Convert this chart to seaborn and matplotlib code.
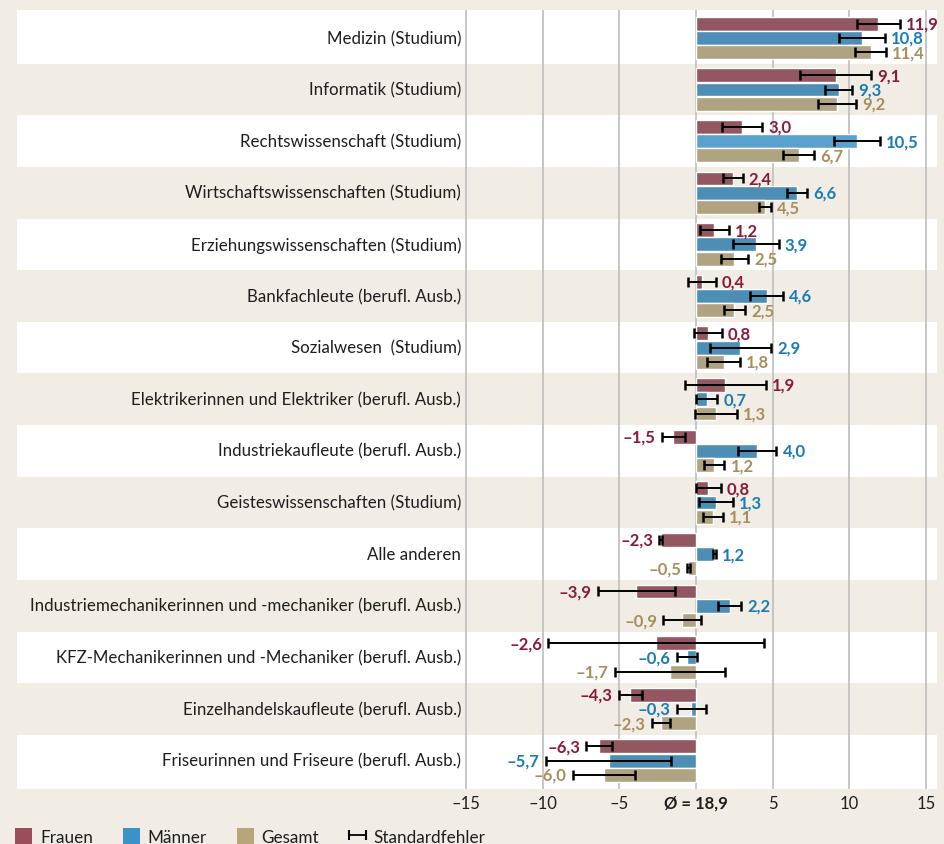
import pandas as pd
import matplotlib.pyplot as plt
import seaborn as sns
from matplotlib.patches import Patch
from matplotlib.lines import Line2D
from matplotlib.legend_handler import HandlerLine2D

# data
categories = [
    "Medizin (Studium)",
    "Informatik (Studium)",
    "Rechtswissenschaft (Studium)",
    "Wirtschaftswissenschaften (Studium)",
    "Erziehungswissenschaften (Studium)",
    "Bankfachleute (berufl. Ausb.)",
    "Sozialwesen  (Studium)",
    "Elektrikerinnen und Elektriker (berufl. Ausb.)",
    "Industriekaufleute (berufl. Ausb.)",
    "Geisteswissenschaften (Studium)",
    "Alle anderen",
    "Industriemechanikerinnen und -mechaniker (berufl. Ausb.)",
    "KFZ-Mechanikerinnen und -Mechaniker (berufl. Ausb.)",
    "Einzelhandelskaufleute (berufl. Ausb.)",
    "Friseurinnen und Friseure (berufl. Ausb.)",
]
groups = ["Frauen", "Männer", "Gesamt"]

frauen = [11.9, 9.1, 3.0, 2.4, 1.2, 0.4, 0.8, 1.9, -1.5, 0.8, -2.3, -3.9, -2.6, -4.3, -6.3]
maenner = [10.8, 9.3, 10.5, 6.6, 3.9, 4.6, 2.9, 0.7, 4.0, 1.3, 1.2, 2.2, -0.6, -0.3, -5.7]
gesamt = [11.4, 9.2, 6.7, 4.5, 2.5, 2.5, 1.8, 1.3, 1.2, 1.1, -0.5, -0.9, -1.7, -2.3, -6.0]

se_frauen = [1.4, 2.3, 1.3, 0.65, 0.95, 0.9, 0.9, 2.65, 0.75, 0.8, 0.1, 2.5, 7.05, 0.75, 0.85]
se_maenner = [1.5, 0.9, 1.5, 0.65, 1.5, 1.05, 2.0, 0.7, 1.25, 1.1, 0.1, 0.75, 0.65, 0.95, 4.1]
se_gesamt = [1.0, 1.25, 1.0, 0.4, 0.9, 0.7, 1.05, 1.35, 0.65, 0.65, 0.08, 1.25, 3.6, 0.6, 2.05]

xticks = [-15, -10, -5, 0, 5, 10, 15]
xticklabels = ["–15", "–10", "–5", "Ø = 18,9", "5", "10", "15"]

bar_colors = ["#9c4d5b", "#3a92c8", "#b8a67a"]
text_colors = ["#8a1a3c", "#1a7bb9", "#a68f5e"]
highlight_color = "#5aa1cd"  # the lighter Männer bar (Rechtswissenschaft)
bg = "#f1ede5"

df = pd.DataFrame({
    "Beruf": categories * 3,
    "Gruppe": [g for g in groups for _ in categories],
    "Wert": frauen + maenner + gesamt,
})
se_all = [se_frauen, se_maenner, se_gesamt]
vals_all = [frauen, maenner, gesamt]

sns.set_style("white")
plt.rcParams["font.family"] = ["Lato", "DejaVu Sans"]

fig = plt.figure(figsize=(9.44, 8.44), dpi=100, facecolor=bg)
ax = fig.add_axes([17 / 944, 1 - 789 / 844, 920 / 944, 779 / 844])
ax.set_facecolor(bg)

sns.barplot(data=df, x="Wert", y="Beruf", hue="Gruppe", hue_order=groups,
            order=categories, palette=bar_colors, orient="h", width=0.83,
            gap=0.03, legend=False, ax=ax, zorder=2)
bars = list(ax.patches)

n = len(categories)
# alternating row bands (first and last a bit taller)
for i in range(0, n, 2):
    top = i - 0.5 if i > 0 else -0.7
    bottom = i + 0.5 if i < n - 1 else n
    ax.axhspan(top, bottom, color="white", zorder=0, lw=0)

ax.set_xlim(-44.29, 15.72)
ax.set_ylim(n - 0.45, -0.54)
ax.set_xticks(xticks)
ax.set_xticklabels(xticklabels, fontsize=12, color="#1e1e1e")
ax.get_xticklabels()[3].set_fontweight("bold")
ax.tick_params(axis="x", length=0, pad=5)
ax.set_yticks([])
ax.set_xlabel("")
ax.set_ylabel("")
ax.grid(axis="x", color="#bdbdbd", lw=1.2, zorder=0.5)
ax.set_axisbelow(True)
for s in ax.spines.values():
    s.set_visible(False)

# category names
for i, name in enumerate(categories):
    ax.annotate(name, (-15, i), xytext=(-5, -1), textcoords="offset pixels",
                ha="right", va="center", fontsize=12.2, color="#1e1e1e")

# error bars and value labels, bars sorted top to bottom
bars = sorted(bars, key=lambda p: p.get_y() + p.get_height() / 2)
bars[2 * 3 + 1].set_facecolor(highlight_color)
for k, p in enumerate(bars):
    i, j = divmod(k, 3)
    v = vals_all[j][i]
    se = se_all[j][i]
    yc = p.get_y() + p.get_height() / 2
    ax.errorbar(v, yc, xerr=se, fmt="none", ecolor="black", elinewidth=1.4,
                capsize=3.6, capthick=1.8, zorder=3)
    txt = ("–" if v < 0 else "") + f"{abs(v):.1f}".replace(".", ",")
    if v >= 0:
        ax.annotate(txt, (max(v, v + se), yc), xytext=(6, -1),
                    textcoords="offset pixels", ha="left", va="center",
                    fontsize=12, fontweight="bold", color=text_colors[j])
    else:
        ax.annotate(txt, (v - se, yc), xytext=(-6, -1),
                    textcoords="offset pixels", ha="right", va="center",
                    fontsize=12, fontweight="bold", color=text_colors[j])

# legend
handles = [Patch(facecolor=c, edgecolor="none") for c in bar_colors]
err_handle = Line2D([], [], color="black", lw=1.3, marker="|",
                    markersize=7, markeredgewidth=1.5)
handles.append(err_handle)
fig.legend(handles, groups + ["Standardfehler"], loc="lower left",
           bbox_to_anchor=(0.0, -0.02), ncol=4, frameon=False,
           fontsize=12.3, handlelength=1.0, handleheight=1.2,
           columnspacing=1.75, handletextpad=0.45, labelcolor="#1e1e1e",
           handler_map={err_handle: HandlerLine2D(numpoints=2, marker_pad=0)})

fig.savefig("out.png", dpi=100, facecolor=bg)
